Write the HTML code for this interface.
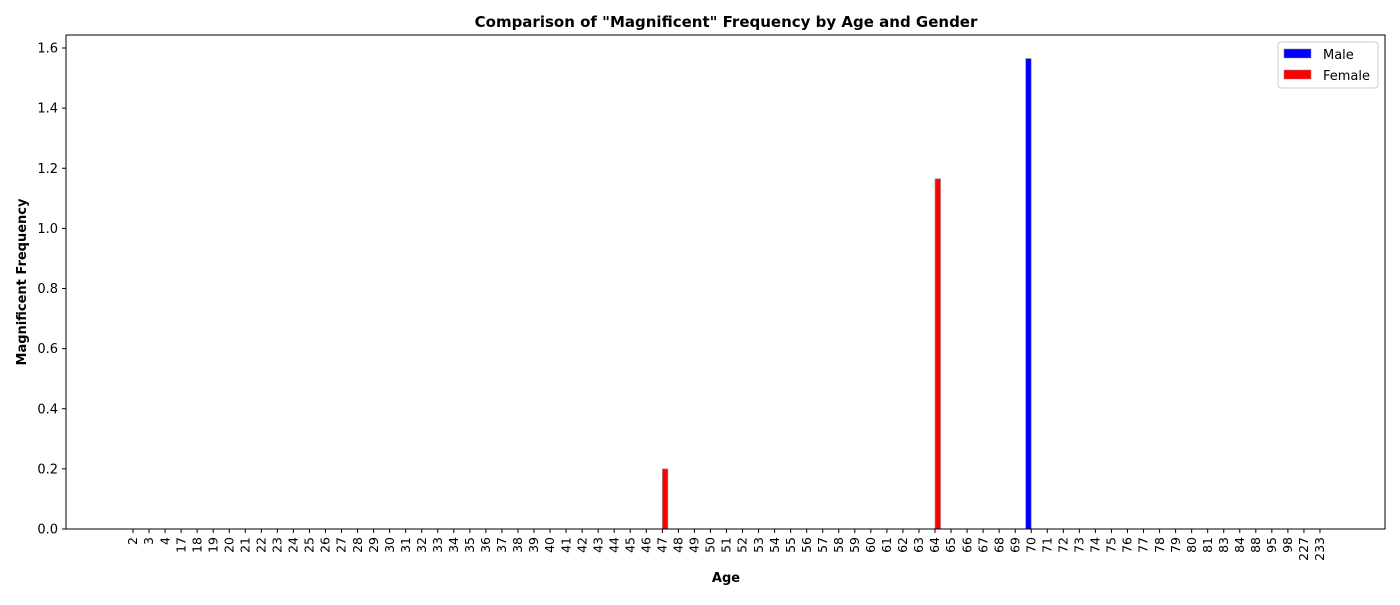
<!DOCTYPE html>
<html><head><meta charset="utf-8"><style>
body{margin:0;background:#fff;font-family:"Liberation Sans","DejaVu Sans",sans-serif}
svg text{font-family:"DejaVu Sans","Liberation Sans",sans-serif}
</style></head><body>
<svg id="chart" width="1400" height="600" xmlns="http://www.w3.org/2000/svg">
<rect width="1400" height="600" fill="#fff"/>
<text x="726" y="27" text-anchor="middle" font-size="15" font-weight="bold">Comparison of "Magnificent" Frequency by Age and Gender</text>
<text x="726" y="582" text-anchor="middle" font-size="13" font-weight="bold">Age</text>
<text transform="translate(26,282) rotate(-90)" text-anchor="middle" font-size="13" font-weight="bold">Magnificent Frequency</text>
<g id="yaxis"></g><g id="xaxis"></g><g id="bars"></g>
<rect x="66" y="35" width="1319" height="494" fill="none" stroke="#000" stroke-width="1"/>
<g>
<rect x="1278" y="42" width="100" height="46" rx="3" fill="#fff" stroke="#ccc"/>
<rect x="1284" y="49" width="27" height="9" fill="#0000ff" stroke="#888" stroke-width="0.5"/>
<text x="1323" y="59" font-size="13">Male</text>
<rect x="1284" y="70" width="27" height="9" fill="#ff0000" stroke="#888" stroke-width="0.5"/>
<text x="1323" y="80" font-size="13">Female</text>
</g>
</svg>
<script>
const ages=[2,3,4,17,18,19,20,21,22,23,24,25,26,27,28,29,30,31,32,33,34,35,36,37,38,39,40,41,42,43,44,45,46,47,48,49,50,51,52,53,54,55,56,57,58,59,60,61,62,63,64,65,66,67,68,69,70,71,72,73,74,75,76,77,78,79,80,81,83,84,88,95,98,227,233];
const maleValues={70:1.565};
const femaleValues={47:0.2,64:1.165};
const yTicks=[0,0.2,0.4,0.6,0.8,1.0,1.2,1.4,1.6];
const NS="http://www.w3.org/2000/svg";
function xPos(i){return 133+i*16.04;}
function yPos(v){return 529-v*(481/1.6);}
const bw=5.6;
function mk(tag,attrs,parent){const e=document.createElementNS(NS,tag);for(const k in attrs)e.setAttribute(k,attrs[k]);parent.appendChild(e);return e;}
const ya=document.getElementById('yaxis'),xa=document.getElementById('xaxis'),bg=document.getElementById('bars');
yTicks.forEach(t=>{const y=yPos(t);
const l=mk('line',{x1:62,x2:66,y1:y,y2:y,stroke:'#000'},ya);


const tx=mk('text',{x:58,y:y+4.5,'text-anchor':'end','font-size':13},ya);tx.textContent=t.toFixed(1);


});
ages.forEach((a,i)=>{const x=xPos(i);
const l=mk('line',{x1:x,x2:x,y1:529,y2:533,stroke:'#000'},xa);


const tx=mk('text',{transform:`translate(${x+4.2},537) rotate(-90)`,'text-anchor':'end','font-size':12.5},xa);tx.textContent=a;


const m=maleValues[a]||0,f=femaleValues[a]||0;
if(m>0){const r=mk('rect',{x:x-bw,y:yPos(m),width:bw,height:529-yPos(m),fill:'#0000ff',stroke:'#999','stroke-width':0.7},bg);

}
if(f>0){const r=mk('rect',{x:x,y:yPos(f),width:bw,height:529-yPos(f),fill:'#ff0000',stroke:'#999','stroke-width':0.7},bg);

}
});
</script>
</body></html>
